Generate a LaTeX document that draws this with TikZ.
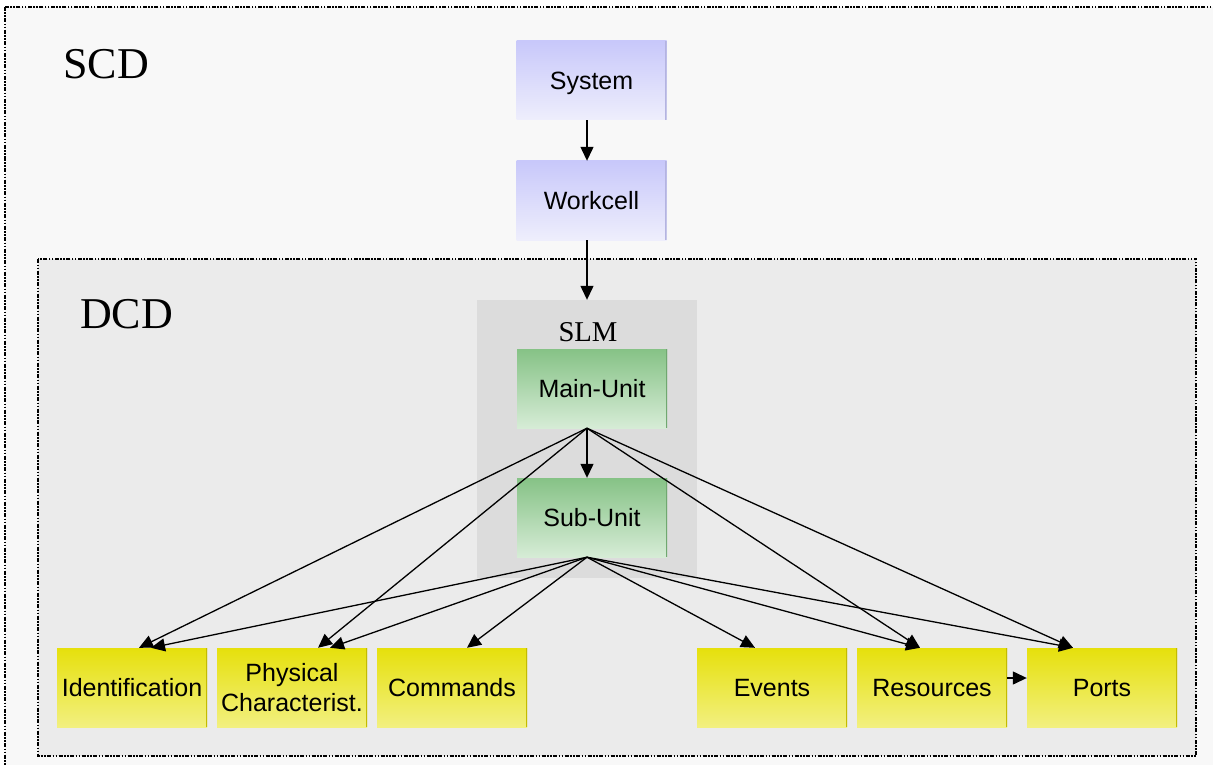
\documentclass[tikz,border=0pt]{standalone}
\usepackage{fontspec}
\setmainfont{Liberation Serif}
\setsansfont{Liberation Sans}
\usetikzlibrary{arrows.meta,calc}
\definecolor{outerbg}{HTML}{F8F8F8}
\definecolor{dcdbg}{HTML}{EBEBEB}
\definecolor{slmbg}{HTML}{DCDCDC}
\definecolor{lavT}{HTML}{C8C8FA}
\definecolor{lavB}{HTML}{EEEEFC}
\definecolor{lavE}{HTML}{B4B4E0}
\definecolor{grnT}{HTML}{86C286}
\definecolor{grnB}{HTML}{D6ECD6}
\definecolor{grnE}{HTML}{70A870}
\definecolor{ylwT}{HTML}{E6E00C}
\definecolor{ylwB}{HTML}{F2F080}
\definecolor{ylwE}{HTML}{C4BC00}
\tikzset{
  box/.style={rectangle, minimum width=150pt, minimum height=79pt, inner sep=0pt,
    font=\sffamily\fontsize{25}{30}\selectfont, align=center, text=black},
  oneline/.style={text height=18pt, text depth=0pt},
  edgeline/.style={path picture={\draw[#1, line width=3pt]
    (path picture bounding box.north east) -- (path picture bounding box.south east);}},
  lavbox/.style={box, top color=lavT, bottom color=lavB, edgeline=lavE},
  grnbox/.style={box, top color=grnT, bottom color=grnB, edgeline=grnE},
  ylwbox/.style={box, top color=ylwT, bottom color=ylwB, edgeline=ylwE},
  frame/.style={draw=black, line width=1.8pt,
    dash pattern=on 4pt off 1.5pt on 1.5pt off 1.5pt on 1.5pt off 1.5pt},
  arr/.style={draw=black, line width=1.3pt, -{Triangle[length=14pt,width=13pt]}},
  bigtitle/.style={font=\rmfamily\fontsize{44}{50}\selectfont, inner sep=0pt},
}
\begin{document}
\begin{tikzpicture}[x=1pt,y=-1pt]
\clip (0,0) rectangle (1213,765);
\fill[white] (0,0) rectangle (1213,765);
% outer SCD frame
\path[frame, fill=outerbg] (5,7) rectangle (1230,785);
\node[bigtitle, anchor=base west] (scd) at (63,79) {SCD};
% DCD frame
\path[frame, fill=dcdbg] (38,259) rectangle (1196,756);
\node[bigtitle, anchor=base west] (dcd) at (80,328) {DCD};
% SLM area
\node[rectangle, fill=slmbg, minimum width=220pt, minimum height=278pt, inner sep=0pt] (slm) at (587,439) {};
\node[font=\rmfamily\fontsize{28.7}{32}\selectfont, inner sep=0pt, anchor=base] (slmlabel) at (588,341) {SLM};
% boxes
\node[lavbox, oneline] (sys) at (591.5,80.5) {System};
\node[lavbox, oneline] (wc) at (591.5,200.5) {Workcell};
\node[grnbox, oneline] (mu) at (592,388.5) {Main-Unit};
\node[grnbox, oneline] (su) at (592,517.5) {Sub-Unit};
\node[ylwbox, oneline] (ident) at (132,687.5) {Identification};
\node[ylwbox] (phys) at (292,687.5) {Physical\\Characterist.};
\node[ylwbox, oneline] (cmd) at (452,687.5) {Commands};
\node[ylwbox, oneline] (evt) at (772,687.5) {Events};
\node[ylwbox, oneline] (res) at (932,687.5) {Resources};
\node[ylwbox, oneline] (ports) at (1102,687.5) {Ports};
% connectors
\draw[arr] ([xshift=-4.5pt]sys.south) -- ([xshift=-4.5pt]wc.north);
\draw[arr] ([xshift=-4.5pt]wc.south) -- (slm.north);
\draw[arr] ([xshift=-5pt]mu.south) -- ([xshift=-5pt]su.north);
\draw[arr] ([xshift=-5pt]mu.south) -- ([xshift=7pt]ident.north);
\draw[arr] ([xshift=-5pt]mu.south) -- ([xshift=26pt]phys.north);
\draw[arr] ([xshift=-5pt]mu.south) -- ([xshift=-12pt]res.north);
\draw[arr] ([xshift=-5pt]mu.south) -- ([xshift=-29pt]ports.north);
\draw[arr] ([xshift=-5pt]su.south) -- ([xshift=19pt]ident.north);
\draw[arr] ([xshift=-5pt]su.south) -- ([xshift=38pt]phys.north);
\draw[arr] ([xshift=-5pt]su.south) -- ([xshift=15pt]cmd.north);
\draw[arr] ([xshift=-5pt]su.south) -- ([xshift=-17pt]evt.north);
\draw[arr] ([xshift=-5pt]su.south) -- ([xshift=-12pt]res.north);
\draw[arr] ([xshift=-5pt]su.south) -- ([xshift=-29pt]ports.north);
\draw[arr] ([yshift=9.5pt]res.east) -- ([yshift=9.5pt]ports.west);
\end{tikzpicture}
\end{document}
